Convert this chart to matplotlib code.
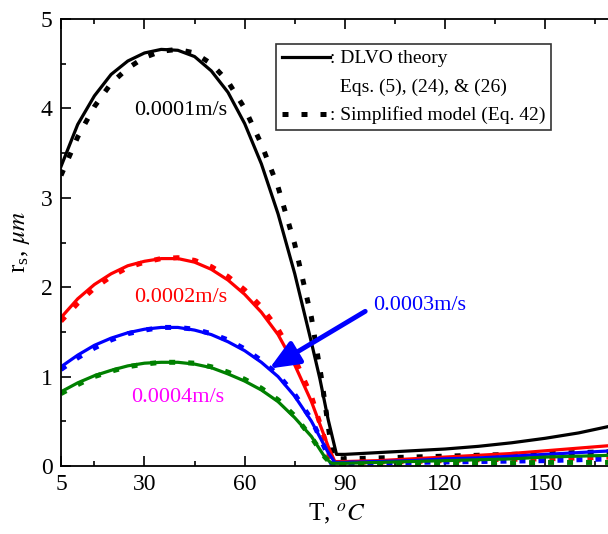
import matplotlib
matplotlib.use("Agg")
import matplotlib.pyplot as plt
from matplotlib.lines import Line2D

plt.rcParams['font.family'] = ['Liberation Serif', 'DejaVu Serif']
plt.rcParams['mathtext.fontset'] = 'stix'

# ---- data ----
T_solid_black = [5, 10, 15, 20, 25, 30, 35, 40, 45, 50, 55, 60, 65, 70, 75, 80, 82.5, 85, 87.5,
                 90, 100, 110, 120, 130, 140, 150, 160, 170]
r_solid_black = [3.35, 3.82, 4.14, 4.38, 4.53, 4.62, 4.66, 4.65, 4.58, 4.42, 4.18, 3.83, 3.38, 2.82,
                 2.15, 1.38, 0.98, 0.52, 0.13, 0.13, 0.15, 0.17, 0.19, 0.22, 0.26, 0.31, 0.37, 0.45]

T_dot_black = [5, 10, 15, 20, 25, 30, 35, 40, 45, 50, 55, 60, 65, 70, 75, 80, 83, 85, 86.5,
               90, 100, 110, 120, 130, 140, 150, 160, 170]
r_dot_black = [3.25, 3.68, 4.02, 4.28, 4.45, 4.57, 4.64, 4.66, 4.62, 4.50, 4.30, 4.00, 3.60, 3.12,
               2.48, 1.66, 0.98, 0.45, 0.08, 0.08, 0.09, 0.10, 0.11, 0.12, 0.13, 0.14, 0.15, 0.16]

T_solid_red = [5, 10, 15, 20, 25, 30, 35, 40, 45, 50, 55, 60, 65, 70, 75, 80, 85, 87,
               90, 100, 110, 120, 130, 140, 150, 160, 170]
r_solid_red = [1.66, 1.87, 2.03, 2.15, 2.24, 2.29, 2.32, 2.32, 2.28, 2.20, 2.08, 1.92, 1.72, 1.47,
               1.13, 0.72, 0.22, 0.05, 0.05, 0.06, 0.08, 0.10, 0.12, 0.14, 0.17, 0.20, 0.23]

T_dot_red = [5, 10, 15, 20, 25, 30, 35, 40, 45, 50, 55, 60, 65, 70, 75, 80, 84, 86,
             90, 110, 130, 150, 170]
r_dot_red = [1.62, 1.82, 1.99, 2.12, 2.22, 2.28, 2.32, 2.33, 2.30, 2.23, 2.12, 1.97, 1.78, 1.53,
             1.20, 0.78, 0.30, 0.04, 0.04, 0.05, 0.07, 0.08, 0.10]

T_solid_blue = [5, 10, 15, 20, 25, 30, 35, 40, 45, 50, 55, 60, 65, 70, 75, 80, 85, 87,
                90, 100, 110, 120, 130, 140, 150, 160, 170]
r_solid_blue = [1.11, 1.24, 1.35, 1.43, 1.49, 1.53, 1.55, 1.55, 1.52, 1.47, 1.39, 1.29, 1.16, 1.00,
                0.78, 0.50, 0.15, 0.04, 0.04, 0.05, 0.06, 0.08, 0.09, 0.11, 0.13, 0.15, 0.17]

T_dot_blue = [5, 10, 15, 20, 25, 30, 35, 40, 45, 50, 55, 60, 65, 70, 75, 80, 84, 86,
              90, 110, 130, 150, 170]
r_dot_blue = [1.08, 1.21, 1.32, 1.41, 1.48, 1.52, 1.55, 1.55, 1.53, 1.48, 1.41, 1.31, 1.18, 1.02,
              0.80, 0.52, 0.20, 0.03, 0.03, 0.04, 0.05, 0.06, 0.08]

T_solid_green = [5, 10, 15, 20, 25, 30, 35, 40, 45, 50, 55, 60, 65, 70, 75, 80, 84, 86,
                 90, 100, 110, 120, 130, 140, 150, 160, 170]
r_solid_green = [0.83, 0.93, 1.01, 1.07, 1.12, 1.15, 1.16, 1.16, 1.14, 1.10, 1.03, 0.95, 0.85, 0.72,
                 0.54, 0.33, 0.10, 0.03, 0.03, 0.04, 0.05, 0.06, 0.07, 0.08, 0.10, 0.11, 0.12]

T_dot_green = [5, 10, 15, 20, 25, 30, 35, 40, 45, 50, 55, 60, 65, 70, 75, 80, 84, 86,
               90, 110, 130, 150, 170]
r_dot_green = [0.81, 0.91, 1.00, 1.06, 1.11, 1.14, 1.16, 1.16, 1.15, 1.11, 1.05, 0.97, 0.87, 0.74,
               0.56, 0.32, 0.10, 0.02, 0.02, 0.03, 0.03, 0.04, 0.04]

x_ticks = [5, 30, 60, 90, 120, 150]
x_minor = [15, 45, 75, 105, 135, 165]
y_ticks = [0, 1, 2, 3, 4, 5]

# ---- figure ----
W, H = 608, 534
fig = plt.figure(figsize=(W / 100, H / 100), dpi=100)
left, right, top, bottom = 61, 612, 19, 466
ax = fig.add_axes([left / W, 1 - bottom / H, (right - left) / W, (bottom - top) / H])

solid_lw = 2.3
dot_kw = dict(lw=3.6, linestyle=(0, (1.2, 2.6)), dash_capstyle='butt')

series = [
    (T_solid_black, r_solid_black, T_dot_black, r_dot_black, 'black'),
    (T_solid_red, r_solid_red, T_dot_red, r_dot_red, '#ff0000'),
    (T_solid_blue, r_solid_blue, T_dot_blue, r_dot_blue, '#0000ff'),
    (T_solid_green, r_solid_green, T_dot_green, r_dot_green, '#008000'),
]
for ts, rs, td, rd, c in series:
    ax.plot(ts, rs, color=c, lw=solid_lw, solid_joinstyle='round')
    ax.plot(td, rd, color=c, **dot_kw)

ax.set_xlim(5, 170)
ax.set_ylim(0, 5)
ax.set_xticks(x_ticks)
ax.set_xticks(x_minor, minor=True)
ax.set_yticks(y_ticks)
ax.set_yticks([0.5, 1.5, 2.5, 3.5, 4.5], minor=True)
ax.tick_params(which='both', direction='in', top=True, right=False, labelsize=17, width=1.2)
ax.tick_params(which='major', length=7, pad=6)
ax.tick_params(which='minor', length=3.5)
for s in ax.spines.values():
    s.set_linewidth(1.3)

ax.set_xlabel(r'T, $^{o}C$', fontsize=18, labelpad=5)
ax.set_ylabel(r'r$_\mathregular{s}$, $\mu m$', fontsize=18, labelpad=6)

# annotations
ax.text(40.9, 3.98, '0.0001m/s', color='black', fontsize=16, ha='center', va='center')
ax.text(40.9, 1.89, '0.0002m/s', color='#ff0000', fontsize=16, ha='center', va='center')
ax.text(40.0, 0.77, '0.0004m/s', color='#ff00ff', fontsize=16, ha='center', va='center')
ax.text(98.5, 1.80, '0.0003m/s', color='#0000ff', fontsize=16, ha='left', va='center')
ax.annotate('', xy=(67.4, 1.09), xytext=(96.1, 1.73),
            arrowprops=dict(arrowstyle='-|>,head_length=0.9,head_width=0.38', color='#0000ff',
                            lw=3.5, mutation_scale=20, shrinkA=0, shrinkB=0))

# legend
h1 = Line2D([], [], color='black', lw=solid_lw)
h2 = Line2D([], [], color='none', lw=0)
h3 = Line2D([], [], color='black', **dot_kw)
leg = ax.legend([h1, h2, h3], [': DLVO theory', '  Eqs. (5), (24), & (26)', ': Simplified model (Eq. 42)'],
                loc='upper right', bbox_to_anchor=((551 - left) / (right - left), (bottom - 44) / (bottom - top)),
                borderaxespad=0, fontsize=14, handlelength=2.45, handletextpad=0.0,
                labelspacing=0.55, borderpad=0.3, fancybox=False, frameon=True)
leg.get_frame().set_edgecolor('black')
leg.get_frame().set_linewidth(1.2)

fig.savefig('out.png', dpi=100)
